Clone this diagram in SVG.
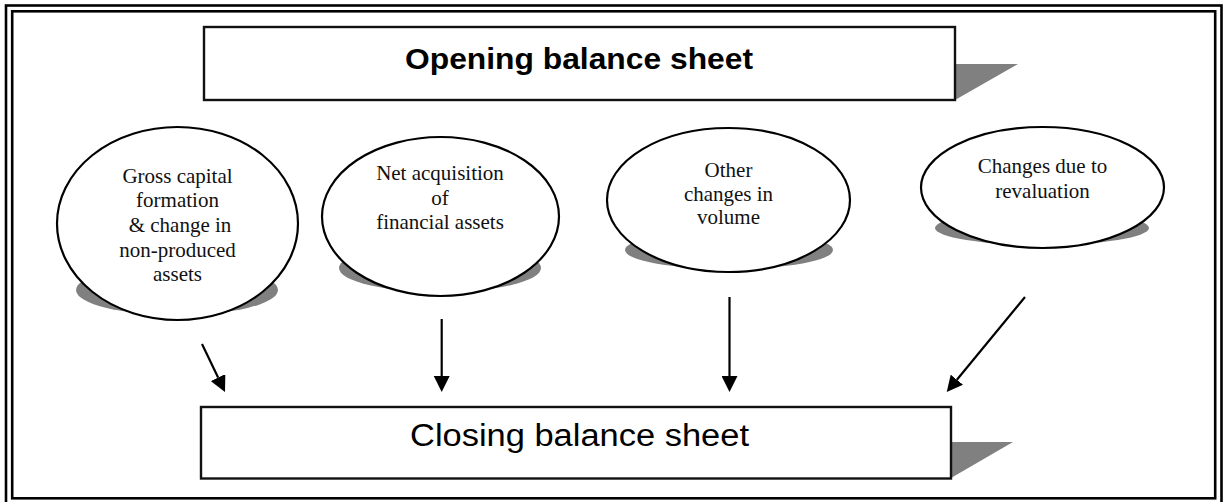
<svg xmlns="http://www.w3.org/2000/svg" width="1224" height="502" viewBox="0 0 1224 502">
  <style>
    .frame { fill: none; stroke: #000; stroke-width: 2.6; }
    .box { fill: #fff; stroke: #111; stroke-width: 2.4; }
    .shade { fill: #808080; stroke: none; }
    .oval { fill: #fff; stroke: #000; stroke-width: 2.2; }
    .head { font-family: "Liberation Sans", Arial, sans-serif; fill: #000; text-anchor: start; }
    .lbl { font-family: "Liberation Serif", "Times New Roman", serif; font-size: 21px; fill: #111; text-anchor: middle; }
    .conn { stroke: #000; stroke-width: 2.2; fill: none; marker-end: url(#tip); }
  </style>
  <defs>
    <marker id="tip" markerUnits="userSpaceOnUse" markerWidth="16" markerHeight="16" refX="0" refY="8" orient="auto">
      <path d="M0,0 L16,8 L0,16 z" fill="#000"/>
    </marker>
  </defs>

  <rect width="1224" height="502" fill="#fff"/>

  <!-- double page frame -->
  <rect class="frame" x="6" y="5.5" width="1215.5" height="500"/>
  <rect class="frame" x="12.2" y="11.3" width="1203" height="487"/>

  <g id="opening">
    <polygon class="shade" points="955,64 1018,64 955,100"/>
    <rect class="box" x="204" y="27" width="751" height="73"/>
    <text class="head" x="405" y="69" font-size="29" font-weight="bold" textLength="348" lengthAdjust="spacingAndGlyphs">Opening balance sheet</text>
  </g>

  <g id="gross-capital">
    <ellipse class="shade" cx="177" cy="290" rx="101" ry="25"/>
    <ellipse class="oval" cx="177.5" cy="223.5" rx="120.5" ry="96.5"/>
    <text class="lbl" x="177.5" y="183.3">Gross capital</text>
    <text class="lbl" x="177.5" y="207.3">formation</text>
    <text class="lbl" x="180" y="231.7">&amp; change in</text>
    <text class="lbl" x="177.5" y="256.7">non-produced</text>
    <text class="lbl" x="177.5" y="280.7">assets</text>
  </g>

  <g id="financial-assets">
    <ellipse class="shade" cx="440" cy="268" rx="101" ry="24"/>
    <ellipse class="oval" cx="440.5" cy="216.5" rx="118.5" ry="79.5"/>
    <text class="lbl" x="440" y="180">Net acquisition</text>
    <text class="lbl" x="440" y="205">of</text>
    <text class="lbl" x="440" y="229.3">financial assets</text>
  </g>

  <g id="volume">
    <ellipse class="shade" cx="729" cy="250" rx="104" ry="19"/>
    <ellipse class="oval" cx="728.5" cy="200" rx="121.5" ry="72"/>
    <text class="lbl" x="728.5" y="177.3">Other</text>
    <text class="lbl" x="728.5" y="200.5">changes in</text>
    <text class="lbl" x="728.5" y="224">volume</text>
  </g>

  <g id="revaluation">
    <ellipse class="shade" cx="1042" cy="228" rx="107" ry="17"/>
    <ellipse class="oval" cx="1042.5" cy="187.5" rx="121.5" ry="60.5"/>
    <text class="lbl" x="1042.5" y="173.3">Changes due to</text>
    <text class="lbl" x="1042.5" y="198.3">revaluation</text>
  </g>

  <g id="closing">
    <polygon class="shade" points="951,442 1013,442 951,478"/>
    <rect class="box" x="201" y="407" width="750" height="71.5"/>
    <text class="head" x="410" y="446" font-size="31" textLength="339" lengthAdjust="spacingAndGlyphs">Closing balance sheet</text>
  </g>

  <g id="connectors">
    <line class="conn" x1="202" y1="344" x2="218.1" y2="377.6"/>
    <line class="conn" x1="441.7" y1="319" x2="441.7" y2="376"/>
    <line class="conn" x1="729.5" y1="297" x2="729.5" y2="376"/>
    <line class="conn" x1="1025" y1="297" x2="956.9" y2="379.7"/>
  </g>
</svg>
